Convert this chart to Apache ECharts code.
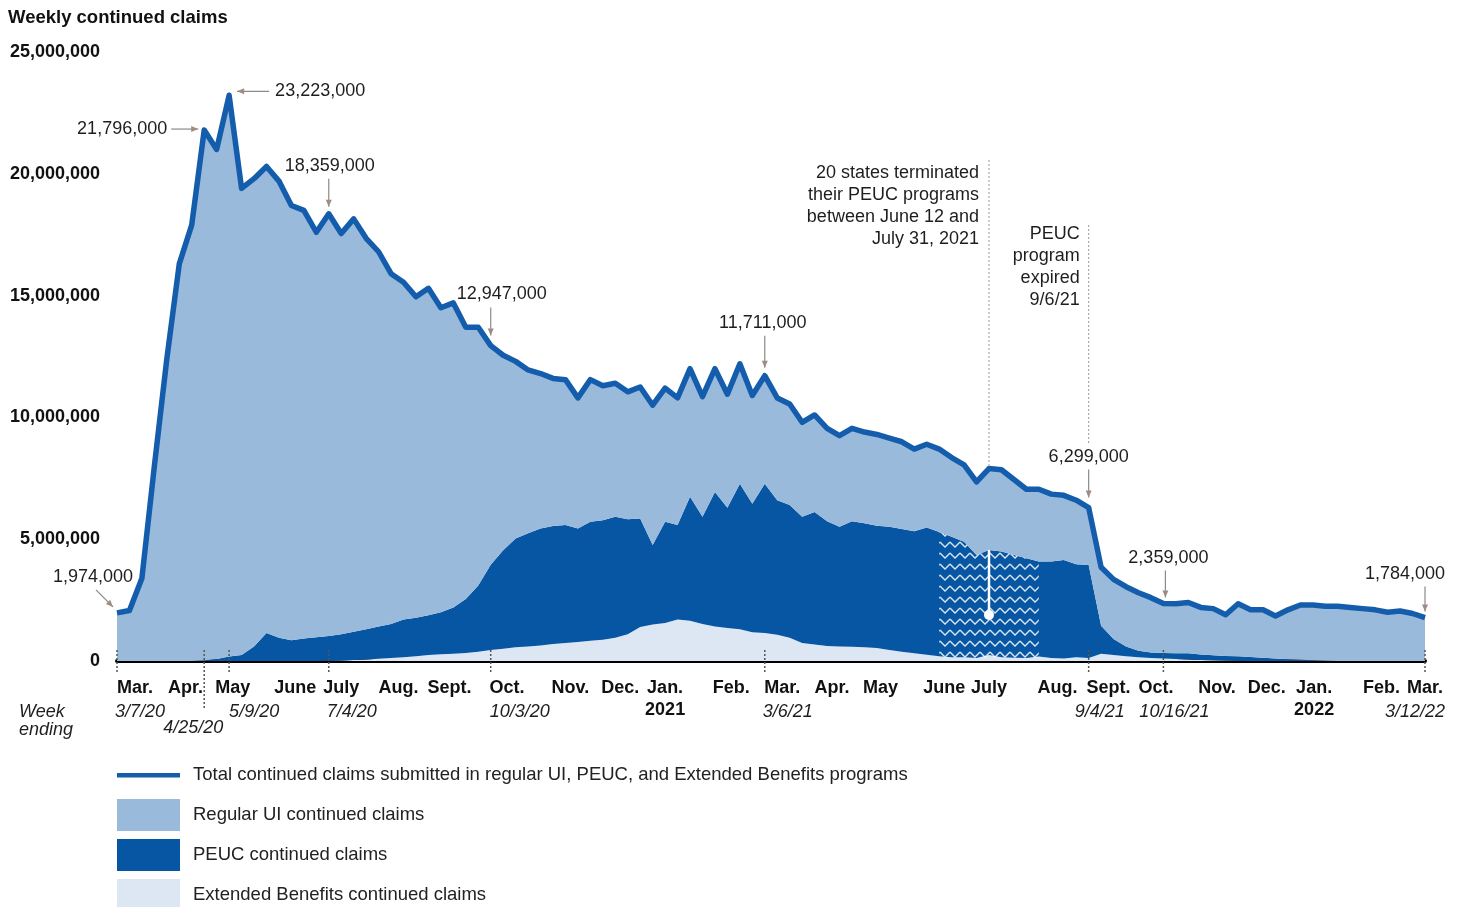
<!DOCTYPE html>
<html><head><meta charset="utf-8">
<script src="https://cdn.jsdelivr.net/npm/echarts@6.0.0/dist/echarts.min.js"></script>
<style>html,body{margin:0;padding:0;background:#fff}#chart{width:1461px;height:907px}</style>
</head><body><div id="chart"></div>
<script>
// ---- data (thousands of claims), one value per week, week 0 = week ending 3/7/20 ----
const totalClaims = [1974,2070,3400,8000,12400,16300,17900,21796,21000,23223,
19400,19800,20300,19700,18700,18500,17600,18359,17550,18150,
17350,16800,15900,15550,14950,15300,14500,14700,13700,13700,
12947,12550,12300,11950,11800,11600,11550,10800,11550,11300,
11400,11050,11250,10500,11200,10800,12000,10850,12000,10950,
12200,10900,11711,10800,10550,9800,10100,9550,9250,9550,
9400,9300,9150,9000,8700,8900,8700,8350,8050,7350,
7900,7850,7450,7050,7050,6850,6800,6600,6299,3850,
3350,3050,2800,2600,2359,2350,2400,2200,2150,1900,
2350,2100,2100,1850,2100,2300,2300,2250,2250,2200,
2150,2100,2000,2050,1950,1784];

const regularClaims = [1974,2070,3400,8000,12400,16300,17900,21776,20920,23043,
19150,19200,19150,18750,17850,17580,16630,17329,16450,16950,
16050,15380,14380,13850,13170,13420,12500,12500,11150,10600,
8997,8000,7270,6710,6360,6060,5970,5360,5830,5520,
5480,5230,5400,5740,5480,5220,5260,4930,5060,4660,
4920,4440,4431,4200,4150,3880,3980,3810,3740,3810,
3750,3750,3640,3580,3370,3420,3400,3250,3150,3000,
3340,3360,3100,2830,2970,2770,2650,2630,2359,2400,
2450,2450,2380,2250,2029,2030,2080,1930,1910,1690,
2155,1940,1970,1750,2030,2250,2270,2235,2250,2200,
2150,2100,2000,2050,1950,1784];

const peucClaims = [0,0,0,0,0,0,0,20,80,180,
250,600,1150,950,850,920,970,1020,1080,1160,
1240,1330,1400,1550,1580,1630,1720,1900,2220,2720,
3500,4050,4470,4640,4800,4840,4840,4660,4890,4910,
4970,4720,4450,3260,4160,3880,5090,4400,5520,4940,
5980,5280,6130,5520,5450,5180,5440,5120,4910,5160,
5090,5020,5060,5040,5010,5220,5100,4950,4750,4230,
4310,4340,4220,4100,3900,3960,4050,3820,3820,1150,
650,400,270,230,230,240,260,230,210,190,
185,160,130,100,70,50,30,15,0,0,
0,0,0,0,0,0];

const ebClaims = [0,0,0,0,0,0,0,0,0,0,
0,0,0,0,0,0,0,10,20,40,
60,90,120,150,200,250,280,300,330,380,
450,500,560,600,640,700,740,780,830,870,
950,1100,1400,1500,1560,1700,1650,1520,1420,1350,
1300,1180,1150,1080,950,740,680,620,600,580,
560,530,450,380,320,260,200,150,150,120,
250,150,130,120,180,120,100,150,120,300,
250,200,150,120,100,80,60,40,30,20,
10,0,0,0,0,0,0,0,0,0,
0,0,0,0,0,0];

// categories = week number since week ending 3/7/20
const weekCategories = totalClaims.map((_, i) => String(i));

// x-axis month labels (week position) and week-ending date ticks
const monthLabelWeeks = [1.45,5.5,9.3,14.3,18,22.6,26.7,31.3,36.4,40.4,44,49.3,53.4,57.4,61.3,66.4,70,75.5,79.6,83.4,88.3,92.3,96.1,101.5,105];
const monthLabels = ['Mar.','Apr.','May','June','July','Aug.','Sept.','Oct.','Nov.','Dec.','Jan.\n2021','Feb.','Mar.','Apr.','May','June','July','Aug.','Sept.','Oct.','Nov.','Dec.','Jan.\n2022','Feb.','Mar.'];
const dateTickWeeks = [0,7,9,17,30,52,78,84,105];
const dateTickLabels = ['3/7/20','4/25/20','5/9/20','7/4/20','10/3/20','3/6/21','9/4/21','10/16/21','3/12/22'];
const calloutWeeks = [0,7,9,17,30,52,78,84,105];

const stateNote = ['20 states terminated','their PEUC programs','between June 12 and','July 31, 2021'];
const stateNoteWeek = 70;
const expiryNote = ['PEUC','program','expired','9/6/21'];
const expiryNoteWeek = 78;
const hatchStart = 66, hatchEnd = 74;

const NAMES = {
  total: 'Total continued claims submitted in regular UI, PEUC, and Extended Benefits programs',
  regular: 'Regular UI continued claims',
  peuc: 'PEUC continued claims',
  eb: 'Extended Benefits continued claims'
};

// ---- styling ----
const FONT = '"Liberation Sans", Arial, sans-serif';
const FS = 18;
const C = {line:'#135dac', regular:'#9abadc', peuc:'#0756a4', eb:'#dce7f3', text:'#1e1e1e', arrow:'#8a8a8a', head:'#a08c84'};

function full(arr){ return arr.map(v => v*1000); }
function hatchOnly(arr){ return arr.map((v,i) => (i>=hatchStart && i<=hatchEnd) ? v*1000 : '-'); }
function fmt(v){ return (v*1000).toLocaleString('en-US'); }

const pat = document.createElement('canvas'); pat.width = 10; pat.height = 11;
const pg = pat.getContext('2d');
pg.strokeStyle = 'rgba(255,255,255,0.85)'; pg.lineWidth = 1.3;
pg.beginPath(); pg.moveTo(0,3); pg.lineTo(5,8); pg.lineTo(10,3); pg.stroke();

const chart = echarts.init(document.getElementById('chart'), null, {renderer:'canvas'});
const areaBase = {type:'line', stack:'claims', symbol:'none', lineStyle:{width:0}, emphasis:{disabled:true}, silent:true, xAxisIndex:0};
const hatchBase = {type:'line', stack:'hatch', symbol:'none', lineStyle:{width:0}, emphasis:{disabled:true}, silent:true, xAxisIndex:0,
  areaStyle:{color:{image:pat, repeat:'repeat'}, opacity:1}, z:3};

chart.setOption({
  animation:false,
  title:{text:'Weekly continued claims', left:8, top:8, padding:0, textStyle:{fontSize:18.5, fontWeight:'bold', fontFamily:FONT, color:'#111'}},
  grid:{left:117, right:36, top:52, bottom:246},
  legend:{orient:'vertical', left:117, top:759, height:170, padding:0, itemWidth:63, itemHeight:32, itemGap:8, selectedMode:false,
    textStyle:{fontSize:18.5, fontFamily:FONT, color:'#222', padding:[0,0,0,8]},
    data:[{name:NAMES.total, icon:'path://M0,0L0.1,0ZM0,32L0.1,32ZM0,14H63V18.5H0Z'},
          {name:NAMES.regular, icon:'rect'}, {name:NAMES.peuc, icon:'rect'}, {name:NAMES.eb, icon:'rect'}]},
  xAxis:[
    {type:'category', data:weekCategories, boundaryGap:false, position:'bottom',
      axisLine:{lineStyle:{color:'#000', width:4}}, axisTick:{show:false}, axisLabel:{show:false}, splitLine:{show:false}},
    {type:'value', min:0, max:105, position:'bottom', splitLine:{show:false},
      axisLine:{show:false}, axisTick:{show:false},
      axisLabel:{customValues:monthLabelWeeks, formatter:(v)=>{const k=monthLabelWeeks.indexOf(v); return k>=0?monthLabels[k]:'';},
        fontSize:FS, fontWeight:'bold', fontFamily:FONT, color:'#111', margin:16, lineHeight:22, hideOverlap:false}}
  ],
  yAxis:{type:'value', min:0, max:25000000, interval:5000000, splitLine:{show:false}, axisLine:{show:false}, axisTick:{show:false},
    axisLabel:{fontSize:FS, fontWeight:'bold', fontFamily:FONT, color:'#111', margin:17, formatter:(v)=>v.toLocaleString('en-US')}},
  series:[
    Object.assign({}, areaBase, {name:NAMES.eb, data:full(ebClaims), areaStyle:{color:C.eb, opacity:1}, itemStyle:{color:C.eb}}),
    Object.assign({}, areaBase, {name:NAMES.peuc, data:full(peucClaims), areaStyle:{color:C.peuc, opacity:1}, itemStyle:{color:C.peuc}}),
    Object.assign({}, areaBase, {name:NAMES.regular, data:full(regularClaims), areaStyle:{color:C.regular, opacity:1}, itemStyle:{color:C.regular}}),
    Object.assign({}, hatchBase, {name:'hatchEb', data:hatchOnly(ebClaims)}),
    Object.assign({}, hatchBase, {name:'hatchPeuc', data:hatchOnly(peucClaims)}),
    {type:'line', name:NAMES.total, xAxisIndex:0, data:full(totalClaims), symbol:'none', z:5, silent:true,
      lineStyle:{color:C.line, width:5.5, join:'round'}, itemStyle:{color:C.line}, emphasis:{disabled:true}}
  ]
});

// ---- overlays positioned through the chart's own scales ----
const P = (w,v)=>chart.convertToPixel({xAxisIndex:0, yAxisIndex:0},[String(w),v]);
const base = P(0,0)[1];
const els = [];
function seg(x1,y1,x2,y2,style){ els.push({type:'line', shape:{x1,y1,x2,y2}, style:Object.assign({stroke:C.arrow, lineWidth:1}, style), silent:true, z:100}); }
function arrow(x1,y1,x2,y2){
  seg(x1,y1,x2,y2,{stroke:C.arrow, lineWidth:1.2});
  const a=Math.atan2(y2-y1,x2-x1), L=7, W=3;
  const bx=x2-L*Math.cos(a), by=y2-L*Math.sin(a);
  els.push({type:'polygon', shape:{points:[[x2,y2],[bx+W*Math.sin(a),by-W*Math.cos(a)],[bx-W*Math.sin(a),by+W*Math.cos(a)]]}, style:{fill:C.head}, silent:true, z:100});
}
function txt(s,x,y,opt){ els.push({type:'text', style:Object.assign({text:s, x, y, font:FS+'px '+FONT, fill:C.text, textAlign:'left', textVerticalAlign:'middle'}, opt||{}), silent:true, z:100}); }

// callouts: [label dx, label dy, align, arrow from dx,dy, arrow to dx,dy]
const calloutLayout = {
  0:[16,-36,'right',-21,-23,-4,-6],
  7:[-37,-1,'right',-33,-1,-6,-1],
  9:[46,-4,'left',40,-4,8,-4],
  17:[1,-48,'center',0,-35,0,-7],
  30:[11,-52,'center',0,-38,0,-10],
  52:[-2,-53,'center',0,-40,0,-8],
  78:[0,-51,'center',0,-38,0,-10],
  84:[5,-46,'center',2,-33,2,-6],
  105:[-20,-44,'center',0,-31,0,-6]
};
calloutWeeks.forEach(w=>{
  const p = P(w, totalClaims[w]*1000); const L = calloutLayout[w];
  txt(fmt(totalClaims[w]), p[0]+L[0], p[1]+L[1], {textAlign:L[2]});
  arrow(p[0]+L[3], p[1]+L[4], p[0]+L[5], p[1]+L[6]);
});

// week-ending ticks and labels
const dateLayout = [['left',-2,0],['center',-11,16],['left',0,0],['left',-2,0],['left',-1,0],['left',-2,0],['center',11,0],['center',11,0],['right',20,0]];
const ITAL = 'italic '+FS+'px '+FONT;
dateTickWeeks.forEach((w,k)=>{
  const x = P(w,0)[0];
  seg(x, base-11, x, base+(k===1?47:12), {stroke:'#555', lineWidth:1.5, lineDash:[2,2]});
  const d = dateLayout[k];
  txt(dateTickLabels[k], x+d[1], base+51+d[2], {textAlign:d[0], font:ITAL});
});
txt('Week', 19, base+51, {font:ITAL});
txt('ending', 19, base+69, {font:ITAL});

// state-termination annotation
{
  const pt = P(stateNoteWeek, totalClaims[stateNoteWeek]*1000);
  const pp = P(stateNoteWeek, (peucClaims[stateNoteWeek]+ebClaims[stateNoteWeek])*1000);
  seg(pt[0], 160, pt[0], pt[1]-3, {stroke:'#999', lineWidth:1, lineDash:[2,2]});
  seg(pp[0], pp[1], pp[0], base-46, {stroke:'#fff', lineWidth:2.5});
  els.push({type:'circle', shape:{cx:pp[0], cy:base-46, r:5}, style:{fill:'#fff'}, silent:true, z:100});
  stateNote.forEach((s,i)=>txt(s, pt[0]-10, 173+22*i, {textAlign:'right'}));
}
// PEUC expiry annotation
{
  const x = P(expiryNoteWeek, 0)[0];
  seg(x, 225, x, 445, {stroke:'#999', lineWidth:1, lineDash:[2,2]});
  expiryNote.forEach((s,i)=>txt(s, x-9, 234+22*i, {textAlign:'right'}));
}
chart.setOption({graphic:els});
</script>
</body></html>
